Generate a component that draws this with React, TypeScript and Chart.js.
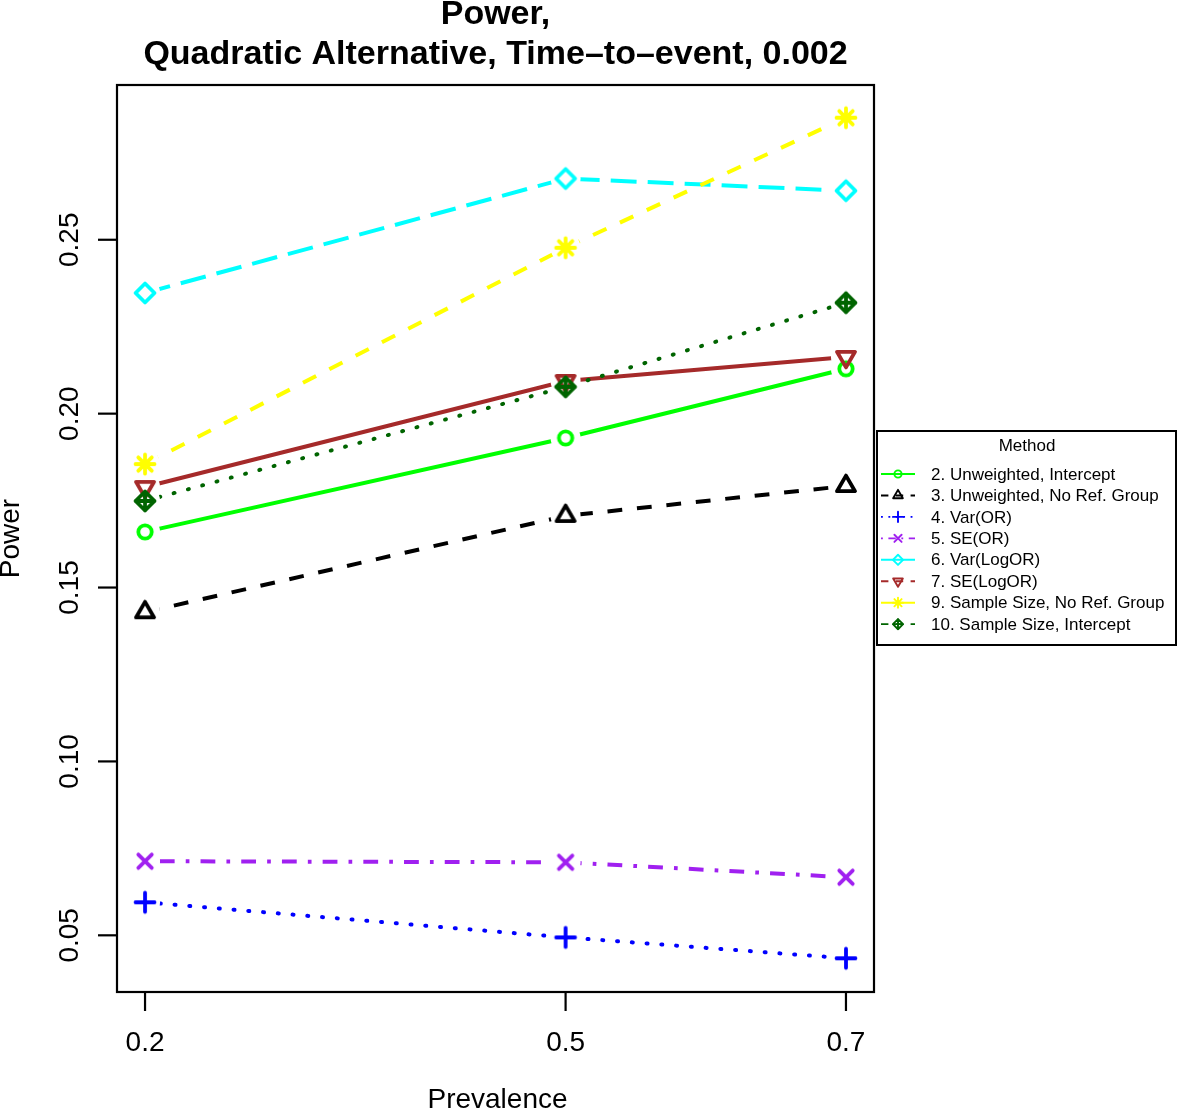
import React, { useEffect, useRef } from "react";
import { Chart, registerables } from "chart.js";

Chart.register(...registerables);

// ---------------- data ----------------
const prevalence = [0.2, 0.5, 0.7];
const xTickValues = [0.2, 0.5, 0.7];
const xTickLabels = ["0.2", "0.5", "0.7"];
const yTickValues = [0.05, 0.1, 0.15, 0.2, 0.25];
const yTickLabels = ["0.05", "0.10", "0.15", "0.20", "0.25"];

const seriesNames = [
  "2. Unweighted, Intercept",
  "3. Unweighted, No Ref. Group",
  "4. Var(OR)",
  "5. SE(OR)",
  "6. Var(LogOR)",
  "7. SE(LogOR)",
  "9. Sample Size, No Ref. Group",
  "10. Sample Size, Intercept",
];

const unweightedIntercept = [0.166, 0.193, 0.2129];
const unweightedNoRef = [0.1429, 0.1706, 0.1792];
const varOR = [0.0595, 0.0494, 0.0434];
const seOR = [0.0713, 0.071, 0.0667];
const varLogOR = [0.2347, 0.2676, 0.2641];
const seLogOR = [0.1789, 0.2094, 0.2163];
const sampleSizeNoRef = [0.1855, 0.2477, 0.2851];
const sampleSizeIntercept = [0.1749, 0.2077, 0.2319];

const seriesValues = [
  unweightedIntercept,
  unweightedNoRef,
  varOR,
  seOR,
  varLogOR,
  seLogOR,
  sampleSizeNoRef,
  sampleSizeIntercept,
];

// ---------------- styles ----------------
const colors = ["#00FF00", "#000000", "#0000FF", "#A020F0", "#00FFFF", "#A52A2A", "#FFFF00", "#006400"];
const markers = ["circle", "triUp", "plus", "cross", "diamond", "triDown", "star", "diamondPlus"];
const U = 3.7; // dash unit
const plotDashes: number[][] = [
  [],
  [4 * U, 4 * U],
  [1, 4 * U - 1],
  [U, 3 * U, 4 * U, 3 * U],
  [7 * U, 3 * U],
  [],
  [4 * U, 4 * U],
  [1, 4 * U - 1],
];
const plotCaps = ["butt", "butt", "round", "butt", "butt", "butt", "butt", "round"];
const lu = 1.85;
const legendDashes: number[][] = [
  [],
  [4 * lu, 4 * lu],
  [lu, 3 * lu],
  [lu, 3 * lu, 4 * lu, 3 * lu],
  [],
  [4 * lu, 4 * lu],
  [],
  [4 * lu, 4 * lu],
];

const FONT = '"Liberation Sans", Arial, Helvetica, sans-serif';
const GAP = 15;

function drawMarker(ctx: CanvasRenderingContext2D, type: string, x: number, y: number, r: number, lw: number, color: string) {
  ctx.save();
  ctx.strokeStyle = color;
  ctx.lineWidth = lw;
  ctx.lineCap = "round";
  ctx.lineJoin = "round";
  ctx.setLineDash([]);
  const s2 = Math.SQRT2 * r;
  const trc0 = Math.sqrt((4 * Math.PI) / (3 * Math.sqrt(3)));
  const tc = trc0 * r;
  const tx = tc * Math.sqrt(3) / 2;
  const ty = tc / 2;
  ctx.beginPath();
  switch (type) {
    case "circle":
      ctx.arc(x, y, r, 0, Math.PI * 2);
      break;
    case "triUp":
      ctx.moveTo(x, y - tc);
      ctx.lineTo(x + tx, y + ty);
      ctx.lineTo(x - tx, y + ty);
      ctx.closePath();
      break;
    case "triDown":
      ctx.moveTo(x, y + tc);
      ctx.lineTo(x + tx, y - ty);
      ctx.lineTo(x - tx, y - ty);
      ctx.closePath();
      break;
    case "plus":
      ctx.moveTo(x - s2, y);
      ctx.lineTo(x + s2, y);
      ctx.moveTo(x, y - s2);
      ctx.lineTo(x, y + s2);
      break;
    case "cross":
      ctx.moveTo(x - r, y - r);
      ctx.lineTo(x + r, y + r);
      ctx.moveTo(x - r, y + r);
      ctx.lineTo(x + r, y - r);
      break;
    case "diamond":
      ctx.moveTo(x, y - s2);
      ctx.lineTo(x + s2, y);
      ctx.lineTo(x, y + s2);
      ctx.lineTo(x - s2, y);
      ctx.closePath();
      break;
    case "star":
      ctx.moveTo(x - s2, y);
      ctx.lineTo(x + s2, y);
      ctx.moveTo(x, y - s2);
      ctx.lineTo(x, y + s2);
      ctx.moveTo(x - r, y - r);
      ctx.lineTo(x + r, y + r);
      ctx.moveTo(x - r, y + r);
      ctx.lineTo(x + r, y - r);
      break;
    case "diamondPlus":
      ctx.moveTo(x, y - s2);
      ctx.lineTo(x + s2, y);
      ctx.lineTo(x, y + s2);
      ctx.lineTo(x - s2, y);
      ctx.closePath();
      ctx.moveTo(x - s2, y);
      ctx.lineTo(x + s2, y);
      ctx.moveTo(x, y - s2);
      ctx.lineTo(x, y + s2);
      break;
  }
  ctx.stroke();
  ctx.restore();
}

function markerCanvas(type: string, color: string): HTMLCanvasElement {
  const c = document.createElement("canvas");
  c.width = 40;
  c.height = 40;
  const ctx = c.getContext("2d")!;
  drawMarker(ctx, type, 20, 20, 6.7, 3.8, color);
  return c;
}

const gapClipPlugin = {
  id: "gapClip",
  beforeDatasetDraw(chart: any, args: any) {
    const ds = chart.data.datasets[args.index];
    if (!ds.gapLine) return;
    const ctx = chart.ctx;
    ctx.save();
    ctx.beginPath();
    ctx.rect(0, 0, chart.width, chart.height);
    for (const el of args.meta.data) {
      ctx.moveTo(el.x + GAP, el.y);
      ctx.arc(el.x, el.y, GAP, 0, Math.PI * 2, true);
    }
    ctx.clip("evenodd");
  },
  afterDatasetDraw(chart: any, args: any) {
    const ds = chart.data.datasets[args.index];
    if (!ds.gapLine) return;
    chart.ctx.restore();
  },
};

const decorPlugin = {
  id: "decor",
  afterDraw(chart: any) {
    const ctx: CanvasRenderingContext2D = chart.ctx;
    const { left, right, top, bottom } = chart.chartArea;
    const xs = chart.scales.x;
    const ys = chart.scales.y;
    ctx.save();
    ctx.strokeStyle = "#000";
    ctx.fillStyle = "#000";
    ctx.lineWidth = 2.2;
    ctx.setLineDash([]);
    ctx.strokeRect(left, top, right - left, bottom - top);

    // x ticks
    ctx.font = `28px ${FONT}`;
    ctx.textAlign = "center";
    ctx.textBaseline = "middle";
    xTickValues.forEach((v, i) => {
      const px = xs.getPixelForValue(v);
      ctx.beginPath();
      ctx.moveTo(px, bottom);
      ctx.lineTo(px, bottom + 19);
      ctx.stroke();
      ctx.fillText(xTickLabels[i], px, 1043);
    });
    // y ticks
    yTickValues.forEach((v, i) => {
      const py = ys.getPixelForValue(v);
      ctx.beginPath();
      ctx.moveTo(left, py);
      ctx.lineTo(left - 19, py);
      ctx.stroke();
      ctx.save();
      ctx.translate(70, py);
      ctx.rotate(-Math.PI / 2);
      ctx.fillText(yTickLabels[i], 0, 0);
      ctx.restore();
    });
    // axis titles
    ctx.fillText("Prevalence", (left + right) / 2 + 2, 1100);
    ctx.save();
    ctx.translate(11, (top + bottom) / 2);
    ctx.rotate(-Math.PI / 2);
    ctx.fillText("Power", 0, 0);
    ctx.restore();

    // main title
    ctx.font = `bold 34px ${FONT}`;
    ctx.fillText("Power,", (left + right) / 2, 15);
    ctx.fillText("Quadratic Alternative, Time–to–event, 0.002", (left + right) / 2, 55);

    // legend
    const lx = 877, ly = 431, lw = 299, lh = 214;
    ctx.fillStyle = "#fff";
    ctx.fillRect(lx, ly, lw, lh);
    ctx.strokeStyle = "#000";
    ctx.lineWidth = 2;
    ctx.strokeRect(lx, ly, lw, lh);
    ctx.fillStyle = "#000";
    ctx.font = `17px ${FONT}`;
    ctx.textAlign = "center";
    ctx.fillText("Method", 1027, 446);
    ctx.textAlign = "left";
    seriesNames.forEach((name, i) => {
      const y = 474 + i * 21.45;
      ctx.save();
      ctx.strokeStyle = colors[i];
      ctx.lineWidth = 1.9;
      ctx.setLineDash(legendDashes[i]);
      ctx.beginPath();
      ctx.moveTo(881, y);
      ctx.lineTo(915, y);
      ctx.stroke();
      ctx.restore();
      drawMarker(ctx, markers[i], 898, y, 3.6, 1.9, colors[i]);
      ctx.fillStyle = "#000";
      ctx.fillText(name, 931, y + 1);
    });
    ctx.restore();
  },
};

export default function App() {
  const ref = useRef<HTMLCanvasElement>(null);
  useEffect(() => {
    if (!ref.current) return;
    const datasets: any[] = [];
    seriesValues.forEach((vals, i) => {
      const pts = prevalence.map((x, j) => ({ x, y: vals[j] }));
      datasets.push({
        label: seriesNames[i] + " line",
        data: pts,
        gapLine: true,
        borderColor: colors[i],
        borderWidth: 4,
        borderDash: plotDashes[i],
        borderCapStyle: plotCaps[i],
        pointRadius: 0,
        fill: false,
        tension: 0,
        order: 100 - 2 * i,
      });
      datasets.push({
        label: seriesNames[i],
        data: pts,
        showLine: false,
        pointStyle: markerCanvas(markers[i], colors[i]),
        pointRadius: 8,
        pointHoverRadius: 8,
        borderColor: colors[i],
        backgroundColor: colors[i],
        order: 99 - 2 * i,
      });
    });
    const chart = new Chart(ref.current, {
      type: "line",
      data: { datasets },
      options: {
        responsive: false,
        maintainAspectRatio: false,
        devicePixelRatio: 1,
        animation: false,
        events: [],
        layout: { padding: { left: 117, top: 85, right: 1178 - 874, bottom: 1112 - 992 } },
        plugins: {
          legend: { display: false },
          title: { display: false },
          tooltip: { enabled: false },
        },
        scales: {
          x: { type: "linear", min: 0.18, max: 0.72, display: false },
          y: { type: "linear", min: 0.0337, max: 0.2945, display: false },
        },
      } as any,
      plugins: [gapClipPlugin, decorPlugin],
    });
    return () => chart.destroy();
  }, []);
  return (
    <canvas
      ref={ref}
      width={1178}
      height={1112}
      style={{ position: "absolute", left: 0, top: 0, width: 1178, height: 1112, background: "#fff" }}
    />
  );
}
